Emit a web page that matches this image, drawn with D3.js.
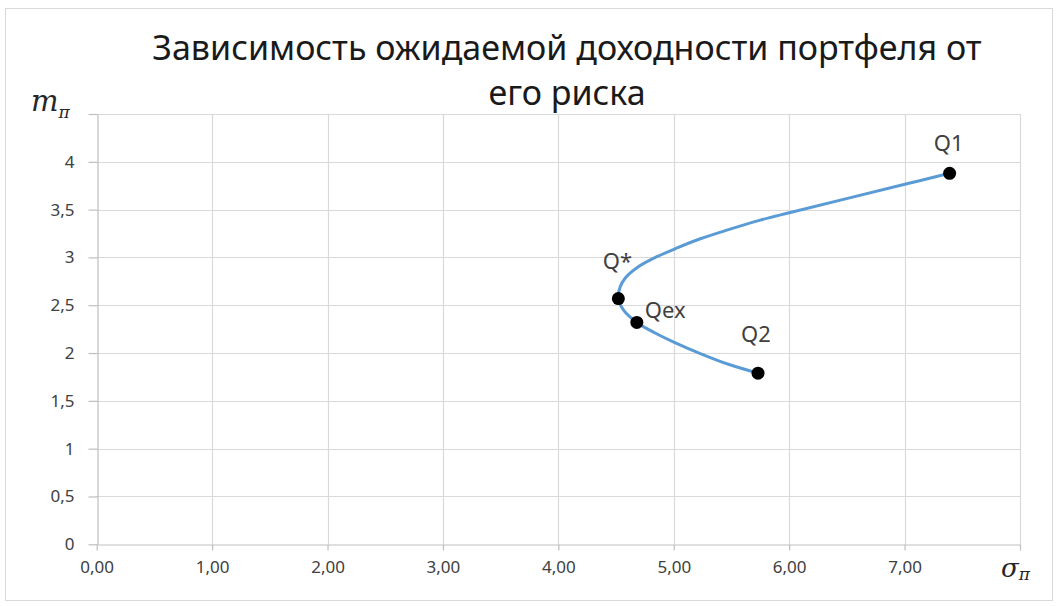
<!DOCTYPE html>
<html>
<head>
<meta charset="utf-8">
<script src="https://cdn.jsdelivr.net/npm/d3@7"></script>
<style>
  html, body { margin: 0; padding: 0; background: #ffffff; }
  svg { display: block; }
</style>
</head>
<body>
<svg id="chart" width="1060" height="606"></svg>
<script>
// Title lines
const titleLines = ["Зависимость ожидаемой доходности портфеля от", "его риска"];

// Axis ticks and their printed labels
const xTicks = [0, 1, 2, 3, 4, 5, 6, 7, 8];
const xTickLabels = ["0,00", "1,00", "2,00", "3,00", "4,00", "5,00", "6,00", "7,00", ""];
const yTicks = [0, 0.5, 1, 1.5, 2, 2.5, 3, 3.5, 4, 4.5];
const yTickLabels = ["0", "0,5", "1", "1,5", "2", "2,5", "3", "3,5", "4", ""];

// Efficient-frontier curve: risk (sigma) and expected return (m), from Q1 down to Q2
const frontierSigma = [7.39, 7.02, 6.01, 5.75, 5.46, 5.23, 5.03, 4.84, 4.69, 4.58, 4.535, 4.52,
                       4.57, 4.68, 4.83, 5.00, 5.23, 5.48, 5.73];
const frontierReturn = [3.88, 3.77, 3.47, 3.39, 3.285, 3.195, 3.10, 3.00, 2.90, 2.785, 2.69, 2.57,
                        2.44, 2.32, 2.215, 2.115, 1.995, 1.88, 1.79];

// Named portfolios
const pointNames = ["Q1", "Q*", "Qex", "Q2"];
const pointSigma = [7.39, 4.52, 4.68, 5.73];
const pointReturn = [3.88, 2.57, 2.32, 1.79];

const svg = d3.select("#chart");
const plot = { left: 96.7, right: 1020, top: 114, bottom: 544.3 };

// Outer chart frame
svg.append("rect")
  .attr("x", 5.5).attr("y", 8.5)
  .attr("width", 1047).attr("height", 592)
  .attr("fill", "#ffffff")
  .attr("stroke", "#d9d9d9").attr("stroke-width", 1);

const x = d3.scaleLinear().domain([0, 8]).range([plot.left, plot.right]);
const y = d3.scaleLinear().domain([0, 4.5]).range([plot.bottom, plot.top]);

const textFont = "'Noto Sans', 'Open Sans', sans-serif";

// Gridlines
const grid = svg.append("g");
grid.selectAll("line.v").data(xTicks.slice(1)).join("line")
  .attr("x1", d => Math.round(x(d)) + 0.5).attr("x2", d => Math.round(x(d)) + 0.5)
  .attr("y1", plot.top).attr("y2", plot.bottom)
  .attr("stroke", "#d9d9d9").attr("stroke-width", 1.2);
grid.selectAll("line.h").data(yTicks.slice(1)).join("line")
  .attr("y1", d => Math.round(y(d)) + 0.5).attr("y2", d => Math.round(y(d)) + 0.5)
  .attr("x1", plot.left).attr("x2", plot.right)
  .attr("stroke", "#d9d9d9").attr("stroke-width", 1.2);

// X axis
const xAxis = d3.axisBottom(x)
  .tickValues(xTicks)
  .tickFormat((d, i) => xTickLabels[i])
  .tickSizeInner(6).tickSizeOuter(0).tickPadding(10);
const gx = svg.append("g")
  .attr("transform", `translate(0,${Math.round(y(0)) + 0.5})`)
  .call(xAxis);
gx.select(".domain").attr("stroke", "#bfbfbf").attr("stroke-width", 1.2);
gx.selectAll(".tick line").attr("stroke", "#bfbfbf").attr("stroke-width", 1.2);
gx.selectAll(".tick text")
  .attr("font-family", textFont).attr("font-size", 17).attr("fill", "#404040");

// Y axis
const yAxis = d3.axisLeft(y)
  .tickValues(yTicks)
  .tickFormat((d, i) => yTickLabels[i])
  .tickSizeInner(9).tickSizeOuter(0).tickPadding(14);
const gy = svg.append("g")
  .attr("transform", `translate(${Math.round(x(0)) + 0.5},0)`)
  .call(yAxis);
gy.select(".domain").attr("stroke", "#bfbfbf").attr("stroke-width", 1.2);
gy.selectAll(".tick line").attr("stroke", "#bfbfbf").attr("stroke-width", 1.2);
gy.selectAll(".tick text")
  .attr("font-family", textFont).attr("font-size", 17).attr("fill", "#404040");

// Frontier curve
const frontier = frontierSigma.map((s, i) => ({ s, m: frontierReturn[i] }));
const line = d3.line()
  .x(d => x(d.s)).y(d => y(d.m))
  .curve(d3.curveCatmullRom.alpha(0.5));
svg.append("path")
  .datum(frontier)
  .attr("d", line)
  .attr("fill", "none")
  .attr("stroke", "#5b9bd5")
  .attr("stroke-width", 3)
  .attr("stroke-linecap", "round");

// Portfolio points
const points = pointNames.map((n, i) => ({ n, s: pointSigma[i], m: pointReturn[i] }));
svg.append("g").selectAll("circle").data(points).join("circle")
  .attr("cx", d => x(d.s)).attr("cy", d => y(d.m))
  .attr("r", 6.5).attr("fill", "#000000");

// Point labels (offsets relative to their point)
const labelOffset = {
  "Q1": { dx: -1, dy: -22, anchor: "middle" },
  "Q*": { dx: -1, dy: -30, anchor: "middle" },
  "Qex": { dx: 8, dy: -4, anchor: "start" },
  "Q2": { dx: -2, dy: -31, anchor: "middle" }
};
svg.append("g").selectAll("text").data(points).join("text")
  .attr("x", d => x(d.s) + labelOffset[d.n].dx)
  .attr("y", d => y(d.m) + labelOffset[d.n].dy)
  .attr("text-anchor", d => labelOffset[d.n].anchor)
  .attr("font-family", textFont).attr("font-size", 22).attr("fill", "#404040")
  .text(d => d.n);

// Title
svg.append("g").selectAll("text").data(titleLines).join("text")
  .attr("x", 567)
  .attr("y", (d, i) => 60 + i * 45)
  .attr("text-anchor", "middle")
  .attr("font-family", textFont).attr("font-size", 34).attr("fill", "#1a1a1a")
  .text(d => d);

// Axis symbols: m_pi (vertical) and sigma_pi (horizontal)
const mathFont = "'DejaVu Serif', 'Liberation Serif', serif";
const yLab = svg.append("text").attr("x", 31).attr("y", 111)
  .attr("font-family", mathFont).attr("font-style", "italic")
  .attr("font-size", 29).attr("fill", "#262626");
yLab.append("tspan").text("m");
yLab.append("tspan").attr("dy", 7).attr("font-size", 17).text("π");

const xLab = svg.append("text").attr("x", 1001).attr("y", 577)
  .attr("font-family", mathFont).attr("font-style", "italic")
  .attr("font-size", 26).attr("fill", "#262626");
xLab.append("tspan").text("σ");
xLab.append("tspan").attr("dy", 3).attr("font-size", 17).text("π");
</script>
</body>
</html>
